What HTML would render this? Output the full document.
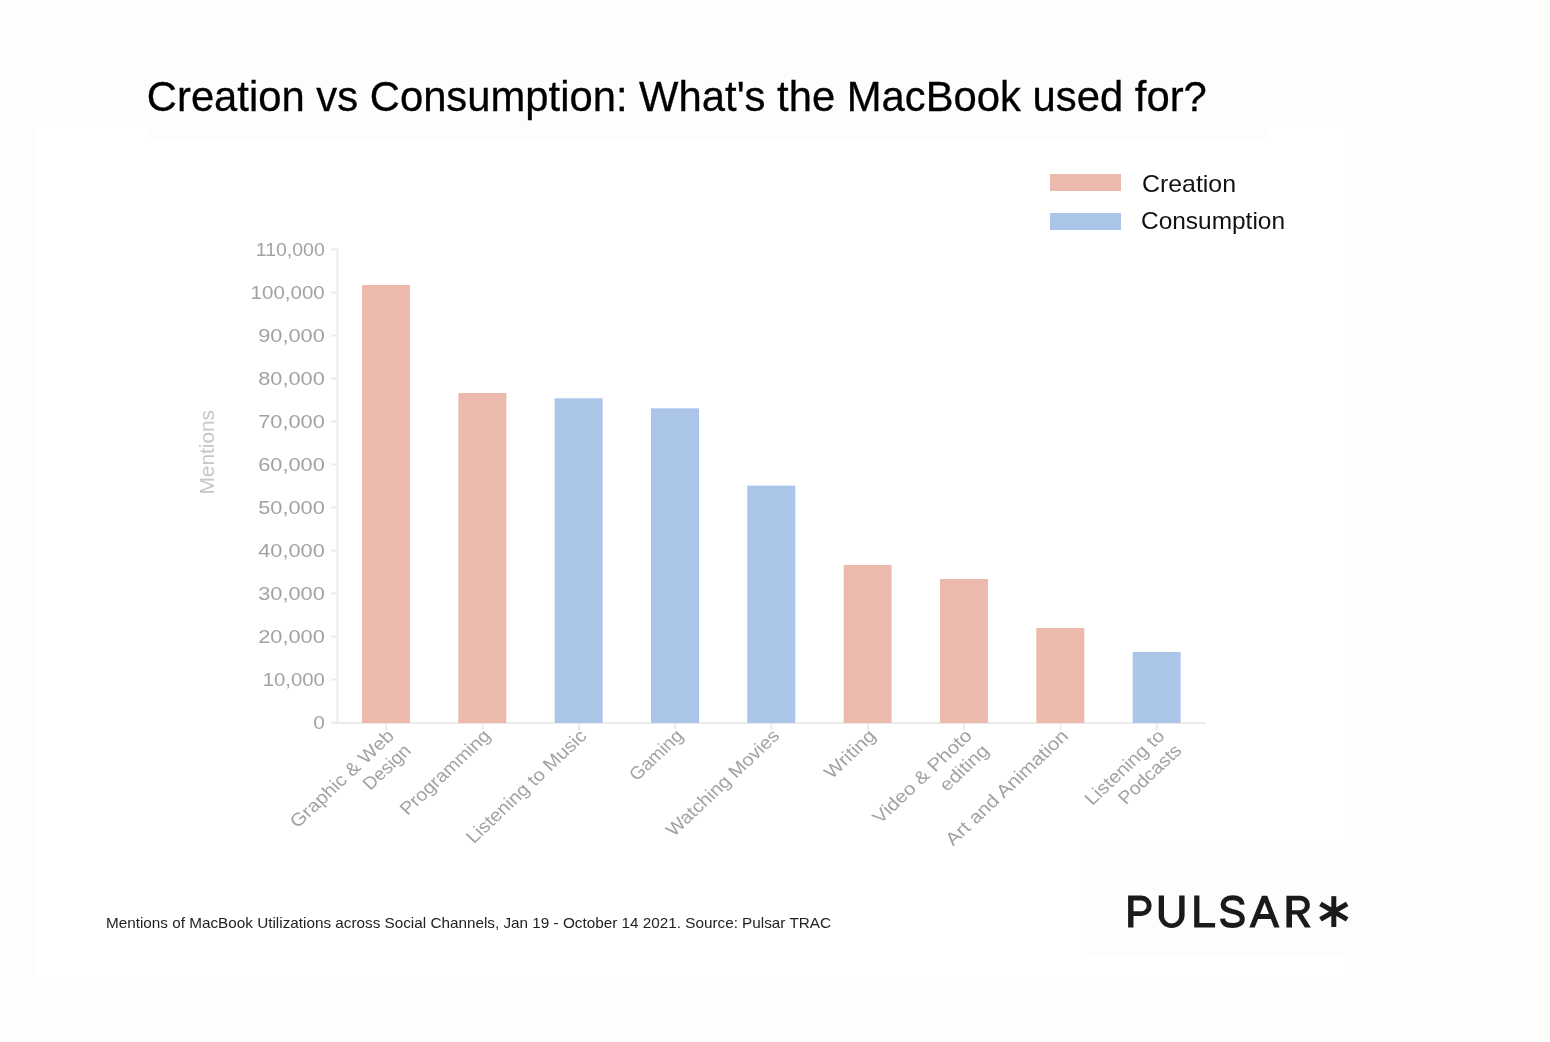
<!DOCTYPE html>
<html><head><meta charset="utf-8"><style>
html,body{margin:0;padding:0;background:#fdfefc;overflow:hidden;}
svg{display:block;will-change:transform;}
text{font-family:"Liberation Sans",sans-serif;}
</style></head><body>
<svg width="1550" height="1042" viewBox="0 0 1550 1042">
<rect x="0" y="0" width="1550" height="1042" fill="#fdfefc"/>
<rect x="37" y="126" width="1309" height="851" fill="#ffffff"/>
<rect x="148" y="120" width="1121" height="21" fill="#fdfefc"/>
<rect x="1086" y="846" width="270" height="110" fill="#fdfefc"/>
<text x="146.8" y="111" font-size="43" fill="#000" stroke="#000" stroke-width="0.3" textLength="1060" lengthAdjust="spacingAndGlyphs">Creation vs Consumption: What's the MacBook used for?</text>
<rect x="1050" y="174" width="71" height="17" fill="#ebbaac"/>
<rect x="1050" y="213" width="71" height="17" fill="#abc5e9"/>
<text x="1142" y="192" font-size="24" fill="#111" textLength="94" lengthAdjust="spacingAndGlyphs">Creation</text>
<text x="1141" y="228.5" font-size="24" fill="#111" textLength="144" lengthAdjust="spacingAndGlyphs">Consumption</text>
<g font-size="19" fill="#a2a2a2"><text x="313.2" y="729.1" textLength="11.6" lengthAdjust="spacingAndGlyphs">0</text><rect x="331" y="721.5" width="6" height="2" fill="#ebebeb"/><text x="262.7" y="686.1" textLength="62.1" lengthAdjust="spacingAndGlyphs">10,000</text><rect x="331" y="678.5" width="6" height="2" fill="#ebebeb"/><text x="258.2" y="643.1" textLength="66.6" lengthAdjust="spacingAndGlyphs">20,000</text><rect x="331" y="635.5" width="6" height="2" fill="#ebebeb"/><text x="258.2" y="600.1" textLength="66.6" lengthAdjust="spacingAndGlyphs">30,000</text><rect x="331" y="592.5" width="6" height="2" fill="#ebebeb"/><text x="258.2" y="557.1" textLength="66.6" lengthAdjust="spacingAndGlyphs">40,000</text><rect x="331" y="549.5" width="6" height="2" fill="#ebebeb"/><text x="258.2" y="514.1" textLength="66.6" lengthAdjust="spacingAndGlyphs">50,000</text><rect x="331" y="506.5" width="6" height="2" fill="#ebebeb"/><text x="258.2" y="471.1" textLength="66.6" lengthAdjust="spacingAndGlyphs">60,000</text><rect x="331" y="463.5" width="6" height="2" fill="#ebebeb"/><text x="258.2" y="428.1" textLength="66.6" lengthAdjust="spacingAndGlyphs">70,000</text><rect x="331" y="420.5" width="6" height="2" fill="#ebebeb"/><text x="258.2" y="385.1" textLength="66.6" lengthAdjust="spacingAndGlyphs">80,000</text><rect x="331" y="377.5" width="6" height="2" fill="#ebebeb"/><text x="258.2" y="342.1" textLength="66.6" lengthAdjust="spacingAndGlyphs">90,000</text><rect x="331" y="334.5" width="6" height="2" fill="#ebebeb"/><text x="250.6" y="299.1" textLength="74.2" lengthAdjust="spacingAndGlyphs">100,000</text><rect x="331" y="291.5" width="6" height="2" fill="#ebebeb"/><text x="255.8" y="256.1" textLength="69.0" lengthAdjust="spacingAndGlyphs">110,000</text><rect x="331" y="248.5" width="6" height="2" fill="#ebebeb"/></g>
<rect x="336.5" y="249" width="2" height="474" fill="#ebebeb"/>
<rect x="331" y="722" width="875" height="2" fill="#ebebeb"/>
<rect x="362.00" y="285" width="48" height="438" fill="#ebbaac"/><rect x="458.33" y="393" width="48" height="330" fill="#ebbaac"/><rect x="554.66" y="398.3" width="48" height="324.7" fill="#abc5e9"/><rect x="650.99" y="408.3" width="48" height="314.7" fill="#abc5e9"/><rect x="747.32" y="485.6" width="48" height="237.39999999999998" fill="#abc5e9"/><rect x="843.65" y="565" width="48" height="158" fill="#ebbaac"/><rect x="939.98" y="579" width="48" height="144" fill="#ebbaac"/><rect x="1036.31" y="628" width="48" height="95" fill="#ebbaac"/><rect x="1132.64" y="652" width="48" height="71" fill="#abc5e9"/>
<rect x="385.20" y="723" width="2" height="7" fill="#ebebeb"/><rect x="481.53" y="723" width="2" height="7" fill="#ebebeb"/><rect x="577.86" y="723" width="2" height="7" fill="#ebebeb"/><rect x="674.19" y="723" width="2" height="7" fill="#ebebeb"/><rect x="770.52" y="723" width="2" height="7" fill="#ebebeb"/><rect x="866.85" y="723" width="2" height="7" fill="#ebebeb"/><rect x="963.18" y="723" width="2" height="7" fill="#ebebeb"/><rect x="1059.51" y="723" width="2" height="7" fill="#ebebeb"/><rect x="1155.84" y="723" width="2" height="7" fill="#ebebeb"/>
<g font-size="19" fill="#a2a2a2"><text transform="translate(395.20,737) scale(1,0.94) rotate(-45)" text-anchor="end"><tspan x="0.0" y="0" textLength="138.0" lengthAdjust="spacingAndGlyphs">Graphic &amp; Web</tspan><tspan x="0.8" y="23" textLength="59.1" lengthAdjust="spacingAndGlyphs">Design</tspan></text><text transform="translate(491.53,737) scale(1,0.94) rotate(-45)" text-anchor="end"><tspan x="0.0" y="0" textLength="119.0" lengthAdjust="spacingAndGlyphs">Programming</tspan></text><text transform="translate(587.86,737) scale(1,0.94) rotate(-45)" text-anchor="end"><tspan x="0.0" y="0" textLength="161.5" lengthAdjust="spacingAndGlyphs">Listening to Music</tspan></text><text transform="translate(684.19,737) scale(1,0.94) rotate(-45)" text-anchor="end"><tspan x="0.0" y="0" textLength="67.2" lengthAdjust="spacingAndGlyphs">Gaming</tspan></text><text transform="translate(780.52,737) scale(1,0.94) rotate(-45)" text-anchor="end"><tspan x="0.0" y="0" textLength="151.0" lengthAdjust="spacingAndGlyphs">Watching Movies</tspan></text><text transform="translate(876.85,737) scale(1,0.94) rotate(-45)" text-anchor="end"><tspan x="0.0" y="0" textLength="63.8" lengthAdjust="spacingAndGlyphs">Writing</tspan></text><text transform="translate(973.18,737) scale(1,0.94) rotate(-45)" text-anchor="end"><tspan x="0.0" y="0" textLength="131.5" lengthAdjust="spacingAndGlyphs">Video &amp; Photo</tspan><tspan x="0.8" y="23" textLength="60.8" lengthAdjust="spacingAndGlyphs">editing</tspan></text><text transform="translate(1069.51,737) scale(1,0.94) rotate(-45)" text-anchor="end"><tspan x="0.0" y="0" textLength="164.9" lengthAdjust="spacingAndGlyphs">Art and Animation</tspan></text><text transform="translate(1165.84,737) scale(1,0.94) rotate(-45)" text-anchor="end"><tspan x="0.0" y="0" textLength="104.0" lengthAdjust="spacingAndGlyphs">Listening to</tspan><tspan x="0.8" y="23" textLength="80.5" lengthAdjust="spacingAndGlyphs">Podcasts</tspan></text></g>
<text transform="translate(214,494.5) rotate(-90)" font-size="21" fill="#c6c6c6" textLength="84.5" lengthAdjust="spacingAndGlyphs">Mentions</text>
<text x="106" y="927.6" font-size="14.5" fill="#222" textLength="725" lengthAdjust="spacingAndGlyphs">Mentions of MacBook Utilizations across Social Channels, Jan 19 - October 14 2021. Source: Pulsar TRAC</text>
<g fill="#1a1a1a" fill-rule="evenodd">
<path d="M1128.1,895.5 H1141.4 A10.25,10.25 0 0 1 1141.4,916 H1133.5 V927.6 H1128.1 Z M1133.5,900.5 H1141.3 A5.4,5.4 0 0 1 1141.3,911.3 H1133.5 Z"/>
<path d="M1158.7,895.5 H1164 V916 A7.6,7.6 0 0 0 1179.2,916 V895.5 H1184.6 V915 A12.95,12.95 0 0 1 1158.7,915 Z"/>
<path d="M1194.2,895.5 H1199.4 V922.9 H1215.1 V927.6 H1194.2 Z"/>
<path d="M1249.3,927.5 L1262,895.8 H1267.2 L1279.6,927.5 H1274.2 L1270.9,918.9 H1258.1 L1254.7,927.5 Z M1260.1,914.1 H1269 L1264.6,902.6 Z"/>
<path d="M1286.4,895.8 H1300.7 A9.3,9.3 0 0 1 1302.5,914.2 L1310.8,927.5 H1304.8 L1296.8,914.4 H1292 V927.5 H1286.4 Z M1292,900.4 H1299.95 A4.95,4.95 0 0 1 1299.95,910.3 H1292 Z"/>
<g transform="translate(1333.8,911.6)"><rect x="-2.5" y="-15.4" width="5" height="30.8"/><rect x="-2.5" y="-15.4" width="5" height="30.8" transform="rotate(60)"/><rect x="-2.5" y="-15.4" width="5" height="30.8" transform="rotate(-60)"/></g>
</g>
<path d="M1242.2,904.6 C1241.8,899.6 1237.5,897.8 1232.5,897.8 C1227,897.8 1223.2,900.5 1223.2,904.6 C1223.2,909 1226.8,910.3 1232,911.4 C1238,912.7 1242.3,914.2 1242.3,919.2 C1242.3,923.4 1238.3,925.5 1232.5,925.5 C1226.5,925.5 1222.9,923 1222.6,918.6" fill="none" stroke="#1a1a1a" stroke-width="5"/>
</svg>
</body></html>
